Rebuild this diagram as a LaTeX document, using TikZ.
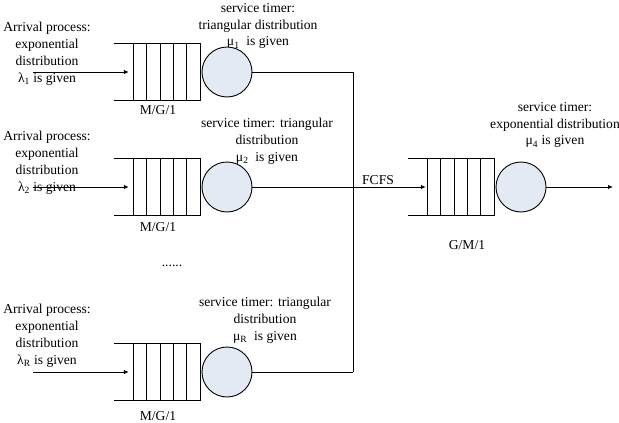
\documentclass[tikz,border=0pt]{standalone}
\usepackage{fontspec}
\setmainfont{Liberation Serif}
\usetikzlibrary{arrows.meta}
\definecolor{srvfill}{RGB}{227,234,244}
\tikzset{
  ln/.style={line width=0.9pt},
  srv/.style={circle, draw, line width=0.9pt, fill=srvfill, minimum size=50pt, inner sep=0pt},
  lbl/.style={font=\fontsize{13.6}{16.9}\selectfont, align=center, inner sep=0pt},
  arr/.style={line width=0.9pt, -{Latex[length=5pt,width=4.5pt]}},
  qbox/.style={minimum width=86pt, minimum height=57pt, inner sep=0pt, draw=none}
}
\newcommand\drawqueue[3]{%
  \node[qbox] (#1) at (#2,#3) {};
  \draw[ln] (#1.north west) -- (#1.north east) -- (#1.south east) -- (#1.south west);
  \foreach \k in {1,...,5} {\draw[ln] ([xshift=-\k*13.4pt]#1.north east) -- ([xshift=-\k*13.4pt]#1.south east);}
}
\begin{document}
\begin{tikzpicture}[x=1pt,y=-1pt]
\useasboundingbox (0,0) rectangle (619,423);
% labels
\node[lbl] (ar1) at (47,54) {Arrival process:\\exponential\\distribution\\λ\textsubscript{1} is given};
\node[lbl] (ar2) at (47,163) {Arrival process:\\exponential\\distribution\\λ\textsubscript{2} is given};
\node[lbl] (ar3) at (47,336) {Arrival process:\\exponential\\distribution\\λ\textsubscript{R} is given};
\node[lbl] (st1) at (258,26) {service timer:\\triangular distribution\\μ\textsubscript{1}\ \ is given};
\node[lbl] (st2) at (267,141) {service timer: triangular\\distribution\\μ\textsubscript{2}\ \ is given};
\node[lbl] (st3) at (265,320) {service timer: triangular\\distribution\\μ\textsubscript{R}\ \ is given};
\node[lbl] (st4) at (555,125) {service timer:\\exponential distribution\\μ\textsubscript{4} is given};
\node[lbl] (m1) at (158,110) {M/G/1};
\node[lbl] (m2) at (158,227) {M/G/1};
\node[lbl] (m3) at (158,416) {M/G/1};
\node[lbl] (m4) at (467,245) {G/M/1};
\node[lbl] (fc) at (378,180) {FCFS};
\node[lbl] (dots) at (172,266) {......};
% queues
\drawqueue{q1}{157}{72}
\drawqueue{q2}{157}{187}
\drawqueue{q3}{157}{372}
\drawqueue{q4}{451}{187}
% servers
\node[srv] (s1) at (227,72) {};
\node[srv] (s2) at (227,187) {};
\node[srv] (s3) at (227,372) {};
\node[srv] (s4) at (521,187) {};
% coordinates
\coordinate (a1) at (33,72);
\coordinate (a2) at (33,187);
\coordinate (a3) at (33,372);
\coordinate (j1) at (353,72);
\coordinate (j3) at (353,372);
\coordinate (out) at (613,187);
% connectors
\draw[arr] (a1) -- ([xshift=15pt]q1.west);
\draw[arr] (a2) -- ([xshift=15pt]q2.west);
\draw[arr] (a3) -- ([xshift=15pt]q3.west);
\draw[ln] (s1) -- (j1) -- (j3);
\draw[ln] (s3) -- (j3);
\draw[arr] (s2) -- ([xshift=18pt]q4.west);
\draw[arr] (s4) -- (out);
\end{tikzpicture}
\end{document}
